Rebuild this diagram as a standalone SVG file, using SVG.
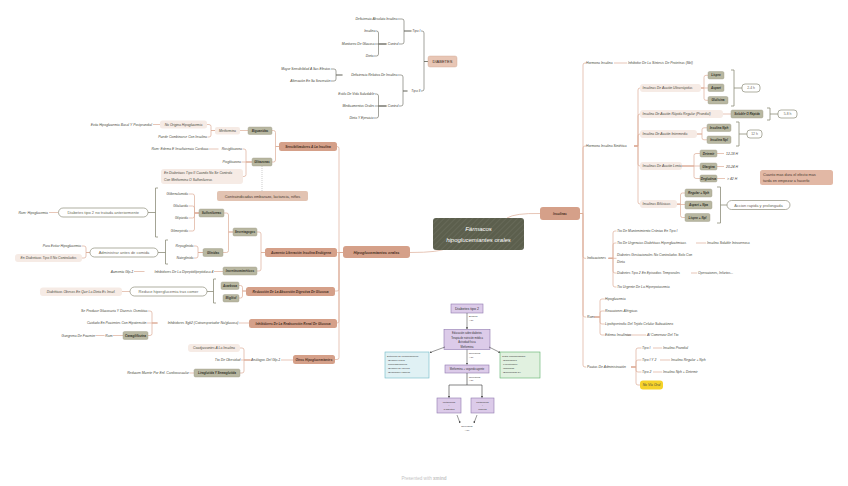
<svg xmlns="http://www.w3.org/2000/svg" width="848" height="486" viewBox="0 0 848 486">
<style>
.c{fill:none;stroke:#dcae98;stroke-width:.7}
.cd{fill:none;stroke:#66665a;stroke-width:.6}
.br{fill:none;stroke:#8d8d7a;stroke-width:.8}
.t{font-family:"Liberation Sans",Arial,sans-serif;font-style:italic;font-size:3.4px;fill:#4a4a3e;dominant-baseline:central}
.td{font-family:"Liberation Sans",Arial,sans-serif;font-style:italic;font-size:3.3px;fill:#3f3f35;dominant-baseline:central}
.e{text-anchor:end}
.m{text-anchor:middle}
.ob{fill:#b8b7a1;stroke:#9c9b86;stroke-width:.4}
.obt{font-family:"Liberation Sans",Arial,sans-serif;font-style:italic;font-weight:bold;font-size:3.1px;fill:#33332a;text-anchor:middle;dominant-baseline:central}
.lb{fill:#f6ebe5}
.sb{fill:#d5a089}
.sbt{font-family:"Liberation Sans",Arial,sans-serif;font-style:italic;font-weight:bold;font-size:3.2px;fill:#4a3024;text-anchor:middle;dominant-baseline:central}
.wb{fill:#fff;stroke:#8d8d7a;stroke-width:.7}
.n{font-family:"Liberation Sans",Arial,sans-serif;font-size:4px;fill:#6a6a5a;dominant-baseline:central}
.f{font-family:"Liberation Sans",Arial,sans-serif;fill:#333;dominant-baseline:central}
</style>
<defs>
<filter id="rough" x="-10%" y="-30%" width="120%" height="160%">
<feTurbulence type="fractalNoise" baseFrequency="0.9" numOctaves="1" seed="3"/>
<feDisplacementMap in="SourceGraphic" scale="1.4" xChannelSelector="R" yChannelSelector="G"/>
</filter>
<pattern id="hatch" width="4" height="4" patternUnits="userSpaceOnUse" patternTransform="rotate(45)">
<line x1="0" y1="0" x2="0" y2="4" stroke="#ffffff" stroke-opacity=".12" stroke-width="1"/>
</pattern>
<marker id="ar" viewBox="0 0 6 6" refX="5" refY="3" markerWidth="4" markerHeight="4" orient="auto">
<path d="M0,0 L6,3 L0,6 z" fill="#333"/>
</marker>
</defs>
<rect width="848" height="486" fill="#ffffff"/>

<g id="connectors">
<!-- central -->
<path class="c" d="M507,218 Q515,213 540,213.5"/>
<path class="c" d="M447,248 Q440,252.5 410,252.5"/>
<!-- left trunk -->
<path class="c" d="M343,252.5 H339 V148.5 Q339,146.5 337,146.5"/>
<path class="c" d="M343,252.5 H337"/>
<path class="c" d="M343,252.5 H339 V289 Q339,291 337,291 H335"/>
<path class="c" d="M343,252.5 H339 V321 Q339,323 337,323"/>
<path class="c" d="M343,252.5 H339 V357.5 Q339,359.5 337,359.5 H335"/>
<!-- sensibilizadores -->
<path class="c" d="M279,146.5 H275.5 V132.5 Q275.5,130.5 273.5,130.5 H272"/>
<path class="c" d="M279,146.5 H275.5 V160 Q275.5,162 273.5,162 H272"/>
<path class="c" d="M248,130.5 H240"/>
<path class="c" d="M215,130.5 H211 V126.5 Q211,124.5 209,124.5 H207"/>
<path class="c" d="M215,130.5 H211 V135 Q211,137 209,137 H207.5"/>
<path class="c" d="M160,124.5 H153"/>
<path class="c" d="M252,162 H246 V151 Q246,149 244,149 H242.5"/>
<path class="c" d="M252,162 H241.5"/>
<path class="c" d="M252,162 H246 V174.5 Q246,176.5 244,176.5 H243"/>
<path class="c" d="M218.5,149 H209"/>
<path fill="none" stroke="#999" stroke-width=".5" stroke-dasharray="1,1" d="M262,166 V191"/>
<!-- aumento -->
<path class="c" d="M265,252.5 H261 V234 Q261,232 259,232 H257"/>
<path class="c" d="M265,252.5 H261 V269 Q261,271 259,271 H257"/>
<path class="c" d="M233,232 H228.5 V215 Q228.5,213 226.5,213 H224"/>
<path class="c" d="M233,232 H228.5 V250.5 Q228.5,252.5 226.5,252.5 H223"/>
<path class="c" d="M199,213 H194.5 V196 Q194.5,194 192.5,194 H188.5"/>
<path class="c" d="M199,213 H194.5 V208 Q194.5,206 192.5,206 H188.5"/>
<path class="c" d="M199,213 H194.5 V216 Q194.5,218 192.5,218 H188.5"/>
<path class="c" d="M199,213 H194.5 V229 Q194.5,231 192.5,231 H188.5"/>
<path class="br" d="M158,188 H155.5 V237 H158 M155.5,212.5 H148"/>
<path class="c" d="M58,212.5 H49"/>
<path class="c" d="M203,252.5 H198 V248 Q198,246 196,246 H194"/>
<path class="c" d="M203,252.5 H198 V256 Q198,258 196,258 H194"/>
<path class="br" d="M168,240 H165.5 V264 H168 M165.5,252.5 H158"/>
<path class="c" d="M90,252.5 H86 V248 Q86,246 84,246 H81.5"/>
<path class="c" d="M90,252.5 H86 V256 Q86,258 84,258 H82"/>
<path class="c" d="M223,271.5 H214"/>
<path class="c" d="M144.5,271.5 H134"/>
<!-- reduccion -->
<path class="c" d="M246,291 H242.5 V287.5 Q242.5,285.5 240.5,285.5 H239"/>
<path class="c" d="M246,291 H242.5 V296 Q242.5,298 240.5,298 H239"/>
<path class="br" d="M216,279 H213.5 V303 H216 M213.5,291.5 H207"/>
<path class="c" d="M130,291.5 H122"/>
<!-- renal -->
<path class="c" d="M249,323 H239"/>
<path class="c" d="M157.5,323 H152 V313 Q152,311 150,311 H148"/>
<path class="c" d="M157.5,323 H147"/>
<path class="c" d="M157.5,323 H152 V333.5 Q152,335.5 150,335.5 H148"/>
<path class="c" d="M123,335.5 H113"/>
<path class="c" d="M104.5,335.5 H96"/>
<!-- otros -->
<path class="c" d="M293,360 H281"/>
<path class="c" d="M250.5,360 H244 V350 Q244,348 242,348 H240"/>
<path class="c" d="M250.5,360 H241"/>
<path class="c" d="M250.5,360 H244 V371 Q244,373 242,373 H240"/>
<path class="c" d="M194,373 H189.5"/>
<!-- diabetes -->
<path class="cd" d="M428,61.5 H424 V33 Q424,31 422,31 H421"/>
<path class="cd" d="M428,61.5 H424 V89 Q424,91 422,91 H421"/>
<path class="cd" d="M411.5,31 H404 V21 Q404,19 402,19 H398"/>
<path class="cd" d="M411.5,31 H404 V42 Q404,44 402,44 H399"/>
<path class="cd" d="M386.5,44 H378.5 V33 Q378.5,31 376.5,31 H376"/>
<path class="cd" d="M386.5,44 H375"/>
<path class="cd" d="M386.5,44 H378.5 V54 Q378.5,56 376.5,56 H374"/>
<path class="cd" d="M407.5,91 H403 V77 Q403,75 401,75 H398"/>
<path class="cd" d="M407.5,91 H403 V104 Q403,106 401,106 H399"/>
<path class="cd" d="M342.5,75 H336 V71 Q336,69 334,69 H331"/>
<path class="cd" d="M342.5,75 H336 V79 Q336,81 334,81 H331"/>
<path class="cd" d="M386.5,106 H378.5 V96 Q378.5,94 376.5,94 H375"/>
<path class="cd" d="M386.5,106 H375"/>
<path class="cd" d="M386.5,106 H378.5 V116 Q378.5,118 376.5,118 H374"/>
<!-- right trunk -->
<path class="c" d="M580,213.5 H583 V65 Q583,63 585,63 H586"/>
<path class="c" d="M580,213.5 H583 V148 Q583,146 585,146 H586"/>
<path class="c" d="M580,213.5 H583 V256.3 Q583,258.3 585,258.3 H586"/>
<path class="c" d="M580,213.5 H583 V315 Q583,317 585,317 H586"/>
<path class="c" d="M580,213.5 H583 V365 Q583,367 585,367 H586"/>
<path class="c" d="M614,63 H627"/>
<path class="c" d="M634,146 H638 V90 Q638,88 640,88"/>
<path class="c" d="M634,146 H638 V116 Q638,114 640,114"/>
<path class="c" d="M634,146 H638 V136 Q638,134 640,134"/>
<path class="c" d="M634,146 H638 V164 Q638,166 640,166"/>
<path class="c" d="M634,146 H638 V202 Q638,204 640,204"/>
<path class="c" d="M701,88 H704 V77.3 Q704,75.3 706,75.3 H708"/>
<path class="c" d="M701,88 H708"/>
<path class="c" d="M701,88 H704 V98.3 Q704,100.3 706,100.3 H708"/>
<path class="br" d="M731,70 H734 V106 H731 M734,88 H742"/>
<path class="c" d="M723,114 H731"/>
<path class="br" d="M767,108 H770 V120 H767 M770,114 H778"/>
<path class="c" d="M697,134 H702 V129.8 Q702,127.8 704,127.8 H707"/>
<path class="c" d="M697,134 H702 V137.8 Q702,139.8 704,139.8 H707"/>
<path class="br" d="M736,122 H739 V146 H736 M739,134 H747"/>
<path class="c" d="M682,166 H694 V155.5 Q694,153.5 696,153.5 H700"/>
<path class="c" d="M682,166 H700"/>
<path class="c" d="M682,166 H694 V176.5 Q694,178.5 696,178.5 H700"/>
<path class="c" d="M717,153.5 H724 M717,166.5 H724 M717,178.5 H725"/>
<path class="c" d="M677,204 H680.5 V195 Q680.5,193 682.5,193 H685"/>
<path class="c" d="M677,204.5 H685"/>
<path class="c" d="M677,204 H680.5 V215.5 Q680.5,217.5 682.5,217.5 H685"/>
<path class="br" d="M717,187 H720.5 V223 H717 M720.5,205 H727"/>
<path class="c" d="M608.5,258.3 H613 V233 Q613,231 615,231 H616.5"/>
<path class="c" d="M608.5,258.3 H613 V245 Q613,243 615,243 H616.5"/>
<path class="c" d="M608.5,258.3 H616.5"/>
<path class="c" d="M608.5,258.3 H613 V271 Q613,273 615,273 H616.5"/>
<path class="c" d="M608.5,258.3 H613 V285 Q613,287 615,287 H616.5"/>
<path class="c" d="M696,243 H706 M691,273 H697"/>
<path class="c" d="M594,317 H600 V301 Q600,299 602,299 H604.5"/>
<path class="c" d="M594,317 H600 V313 Q600,311 602,311 H604.5"/>
<path class="c" d="M594,317 H600 V322 Q600,324 602,324 H604.5"/>
<path class="c" d="M594,317 H600 V333 Q600,335 602,335 H604.5"/>
<path class="c" d="M626,335 H646"/>
<path class="c" d="M631,367 H636 V350 Q636,348 638,348 H641.5"/>
<path class="c" d="M631,367 H636 V362 Q636,360 638,360 H641.5"/>
<path class="c" d="M631,367 H636 V370 Q636,372 638,372 H641.5"/>
<path class="c" d="M631,367 H636 V383 Q636,385 638,385 H640"/>
<path class="c" d="M653,348 H662 M660,360 H670 M653,372 H662"/>
</g>

<g id="central">
<rect x="433" y="218" width="91" height="32" rx="3" fill="#5b5f4e" filter="url(#rough)"/>
<rect x="433" y="218" width="91" height="32" rx="3" fill="url(#hatch)"/>
<text x="478.5" y="229" font-family="Liberation Sans,Arial,sans-serif" font-style="italic" font-size="6" fill="#fff" text-anchor="middle" dominant-baseline="central">Fármacos</text>
<text x="478.5" y="240" font-family="Liberation Sans,Arial,sans-serif" font-style="italic" font-size="6" fill="#fff" text-anchor="middle" dominant-baseline="central">hipoglucemiantes orales</text>
</g>

<g id="insulinas">
<rect x="540" y="207" width="40" height="13" rx="3" class="sb" filter="url(#rough)"/>
<text x="560" y="213.7" class="sbt" font-size="4.2">Insulinas</text>
</g>
<g id="hipo-orales">
<rect x="343" y="246" width="67" height="12" rx="3" class="sb" filter="url(#rough)"/>
<text x="376.5" y="252.3" class="sbt" style="font-size:3.9px">Hipoglucemiantes orales</text>
</g>

<g id="diabetes">
<rect x="428" y="56" width="29" height="11" rx="2" fill="#e8c6b5" stroke="#cfa48f" stroke-width=".4"/>
<text x="442.5" y="61.7" font-family="Liberation Sans,Arial,sans-serif" font-size="4" fill="#3a2a22" text-anchor="middle" dominant-baseline="central">DIABETES</text>
<text x="420.5" y="31" class="td e">Tipo I</text>
<text x="397.5" y="19" class="td e">Deficiencia Absoluta Insulina</text>
<text x="398.5" y="44" class="td e">Control</text>
<text x="375.5" y="31" class="td e">Insulina</text>
<text x="374.5" y="44" class="td e">Monitoreo De Glucosa</text>
<text x="373.5" y="56" class="td e">Dieta</text>
<text x="420.5" y="91" class="td e">Tipo II</text>
<text x="397.5" y="75" class="td e">Deficiencia Relativa De Insulina</text>
<text x="330.5" y="69" class="td e">Mayor Sensibilidad A Sus Efectos</text>
<text x="330.5" y="81" class="td e">Alteración En Su Secreción</text>
<text x="398.5" y="106" class="td e">Control</text>
<text x="374.5" y="94" class="td e">Estilo De Vida Saludable</text>
<text x="374.5" y="106" class="td e">Medicamentos Orales</text>
<text x="373.5" y="118" class="td e">Dieta Y Ejercicio</text>
</g>

<g id="sensibilizadores">
<rect x="279" y="142" width="58" height="9" rx="2.5" class="sb" filter="url(#rough)"/>
<text x="308" y="146.5" class="sbt">Sensibilizadores A La Insulina</text>
</g>
<g id="biguanidas">
<rect x="248" y="127" width="24" height="7.5" rx="1.5" class="ob"/>
<text x="260" y="130.8" class="obt">Biguanidas</text>
<rect x="215" y="127" width="25" height="7.5" rx="2" class="lb"/>
<text x="227.5" y="130.8" class="t m">Metformina</text>
<rect x="160" y="120.5" width="47" height="8" rx="2.5" class="lb"/>
<text x="183.5" y="124.5" class="t m">No Origina Hipoglucemia</text>
<text x="152" y="124.5" class="t e">Evita Hipoglucemia Basal Y Postprandial</text>
<text x="207" y="137" class="t e">Puede Combinarse Con Insulina</text>
</g>
<g id="glitazonas">
<rect x="252" y="158" width="20" height="8" rx="1.5" class="ob"/>
<text x="262" y="162" class="obt">Glitazonas</text>
<text x="242" y="149" class="t e">Rosiglitazona</text>
<text x="208.5" y="149" class="t e">Ram: Edema E Insuficiencia Cardiaca</text>
<text x="241" y="162" class="t e">Pioglitazona</text>
<rect x="161" y="169" width="82" height="15" rx="3" class="lb"/>
<text x="164" y="173" class="t">En Diabeticos Tipo II Cuando No Se Controla</text>
<text x="164" y="180" class="t">Con Metformina O Sulfonilureas</text>
<rect x="217" y="191" width="91" height="10" rx="2" fill="#e2c3b2"/>
<text x="262.5" y="196" class="n m" style="fill:#4a3a30;font-size:3.9px">Contraindicadas embarazo, lactancia, niños</text>
</g>

<g id="aumento">
<rect x="265" y="248" width="72" height="9" rx="2.5" class="sb" filter="url(#rough)"/>
<text x="301" y="252.5" class="sbt">Aumento Liberación Insulina Endógena</text>
</g>
<g id="secretagogos">
<rect x="233" y="228" width="24" height="8" rx="1.5" class="ob"/>
<text x="245" y="232" class="obt">Secretagogos</text>
</g>
<g id="sulfonilureas">
<rect x="199" y="209" width="25" height="8" rx="1.5" class="ob"/>
<text x="211.5" y="213" class="obt">Sulfonilureas</text>
<text x="188" y="194" class="t e">Glibenclamida</text>
<text x="188" y="206" class="t e">Gliclazida</text>
<text x="188" y="218" class="t e">Glipizida</text>
<text x="188" y="231" class="t e">Glimepirida</text>
<rect x="58.5" y="208" width="89.5" height="9" rx="4.5" class="wb"/>
<text x="103.2" y="212.6" class="n m">Diabetes tipo 2 no tratada anteriormente</text>
<text x="48" y="212.5" class="t e">Ram: Hipoglucemia</text>
</g>
<g id="glinidas">
<rect x="203" y="248.5" width="20" height="8" rx="1.5" class="ob"/>
<text x="213" y="252.5" class="obt">Glinidas</text>
<text x="193.5" y="246" class="t e">Repaglinida</text>
<text x="193.5" y="258" class="t e">Nateglinida</text>
<rect x="90" y="248" width="68" height="9" rx="4.5" class="wb"/>
<text x="124" y="252.6" class="n m">Administrar antes de comida</text>
<text x="81" y="246" class="t e">Para Evitar Hipoglucemia</text>
<rect x="15" y="254" width="67" height="8" rx="3" class="lb"/>
<text x="48.5" y="258" class="t m">En Diabeticos Tipo II No Controlados</text>
</g>
<g id="incretinomimeticos">
<rect x="223" y="267" width="34" height="8" rx="1.5" class="ob"/>
<text x="240" y="271.2" class="obt">Incretinomiméticos</text>
<text x="213.5" y="271.5" class="t e">Inhibidores De La Dipeptidilpeptidasa 4</text>
<text x="133.5" y="271.5" class="t e">Aumenta Glp-1</text>
</g>

<g id="reduccion">
<rect x="246" y="287" width="89" height="9" rx="2.5" class="sb" filter="url(#rough)"/>
<text x="290.5" y="291.5" class="sbt">Reducción De La Absorción Digestiva De Glucosa</text>
<rect x="221" y="282" width="18" height="7.5" rx="1.5" class="ob"/>
<text x="230" y="285.8" class="obt">Acarbosa</text>
<rect x="223" y="294.5" width="16" height="7.5" rx="1.5" class="ob"/>
<text x="231" y="298.3" class="obt">Miglitol</text>
<rect x="130" y="287" width="77" height="9" rx="4.5" class="wb"/>
<text x="168.5" y="291.6" class="n m">Reduce hiperglucemia tras comer</text>
<rect x="40" y="287.5" width="82" height="8.5" rx="3" class="lb"/>
<text x="81" y="291.7" class="t m">Diabéticos Obesos En Que La Dieta Es Insuf.</text>
</g>

<g id="renal">
<rect x="249" y="319" width="88" height="9" rx="2.5" class="sb" filter="url(#rough)"/>
<text x="293" y="323.5" class="sbt">Inhibidores De La Reabsorción Renal De Glucosa</text>
<text x="238.5" y="323" class="t e">Inhibidores Sglt2 (Cotransportador Na/glucosa)</text>
<text x="147.5" y="311" class="t e">Se Produce Glucosuria Y Diuresis Osmótica</text>
<text x="146.5" y="323" class="t e">Cuidado En Pacientes Con Hipotensión</text>
<rect x="123" y="331.5" width="25" height="8" rx="1.5" class="ob"/>
<text x="135.5" y="335.5" class="obt">Canagliflozina</text>
<text x="112.5" y="335.5" class="t e">Ram</text>
<text x="95.5" y="335.5" class="t e">Gangrena De Fournier</text>
</g>

<g id="otros">
<rect x="293" y="355" width="42" height="9" rx="2.5" class="sb" filter="url(#rough)"/>
<text x="314" y="359.5" class="sbt">Otros Hipoglucemiantes</text>
<text x="280.5" y="360" class="t e">Análogos Del Glp-1</text>
<rect x="188" y="344" width="52" height="8" rx="3" class="lb"/>
<text x="214" y="348" class="t m">Coadyuvantes A La Insulina</text>
<text x="240.5" y="360" class="t e">Tto De Obesidad</text>
<rect x="194" y="369" width="46" height="8" rx="1.5" class="ob"/>
<text x="217" y="373" class="obt">Liraglutida Y Semaglutida</text>
<text x="189" y="373" class="t e">Reducen Muerte Por Enf. Cardiovascular</text>
</g>

<g id="hormona">
<text x="586" y="63" class="t">Hormona Insulina</text>
<text x="628" y="63" class="t">Inhibidor De La Síntesis De Proteínas (Sbl)</text>
</g>
<g id="sintetica">
<text x="586" y="146" class="t">Hormona Insulina Sintética</text>
<rect x="640" y="84" width="61" height="8" rx="3" class="lb"/>
<text x="642.5" y="88" class="t">Insulinas De Acción Ultrarrápidas</text>
<rect x="708" y="71.5" width="16" height="7.5" rx="1.5" class="ob"/>
<text x="716" y="75.3" class="obt">Lispro</text>
<rect x="708" y="84" width="16" height="7.5" rx="1.5" class="ob"/>
<text x="716" y="87.8" class="obt">Aspart</text>
<rect x="708" y="96.5" width="20" height="7.5" rx="1.5" class="ob"/>
<text x="718" y="100.3" class="obt">Glulisina</text>
<rect x="742" y="84" width="18" height="8" rx="3" class="wb"/>
<text x="751" y="88.2" class="n m" style="font-size:3.4px">2-4 h</text>
<rect x="640" y="110" width="83" height="8" rx="3" class="lb"/>
<text x="642.5" y="114" class="t">Insulina De Acción Rápida Regular (Prandial)</text>
<rect x="731" y="110" width="32" height="8" rx="1.5" class="ob"/>
<text x="747" y="114" class="obt">Soluble O Rápida</text>
<rect x="778" y="110" width="19" height="8" rx="3" class="wb"/>
<text x="787.5" y="114.2" class="n m" style="font-size:3.4px">5-8 h</text>
<rect x="640" y="130" width="57" height="8" rx="3" class="lb"/>
<text x="642.5" y="134" class="t">Insulina De Acción Intermedia</text>
<rect x="707" y="124" width="24" height="7.5" rx="1.5" class="ob"/>
<text x="719" y="127.8" class="obt">Insulina Nph</text>
<rect x="707" y="136" width="24" height="7.5" rx="1.5" class="ob"/>
<text x="719" y="139.8" class="obt">Insulina Npl</text>
<rect x="747" y="130" width="15" height="8" rx="3" class="wb"/>
<text x="754.5" y="134.2" class="n m" style="font-size:3.4px">12 h</text>
<rect x="640" y="162" width="42" height="8" rx="3" class="lb"/>
<text x="642.5" y="166" class="t">Insulinas De Acción Lenta</text>
<rect x="700" y="150" width="17" height="7" rx="1.5" class="ob"/>
<text x="708.5" y="153.5" class="obt">Detemir</text>
<rect x="700" y="163" width="17" height="7" rx="1.5" class="ob"/>
<text x="708.5" y="166.5" class="obt">Glargina</text>
<rect x="700" y="175" width="17" height="7" rx="1.5" class="ob"/>
<text x="708.5" y="178.5" class="obt">Degludeca</text>
<text x="726" y="153.5" class="t">12-18 H</text>
<text x="726" y="166.5" class="t">20-24 H</text>
<text x="727" y="178.5" class="t">&gt; 42 H</text>
<rect x="760" y="170" width="73" height="15" rx="2.5" fill="#e2b8a5" filter="url(#rough)"/>
<text x="763" y="174.5" class="n" style="fill:#4a3a30;font-size:3.8px">Cuanto mas dura el efecto mas</text>
<text x="763" y="180.5" class="n" style="fill:#4a3a30;font-size:3.8px">tarda en empezar a hacerlo</text>
<rect x="640" y="200" width="37" height="8" rx="3" class="lb"/>
<text x="642.5" y="204" class="t">Insulinas Bifásicas</text>
<rect x="685" y="189" width="27" height="8" rx="1.5" class="ob"/>
<text x="698.5" y="193" class="obt">Regular + Nph</text>
<rect x="685" y="201" width="27" height="8" rx="1.5" class="ob"/>
<text x="698.5" y="205" class="obt">Aspart + Npa</text>
<rect x="685" y="213.5" width="25" height="8" rx="1.5" class="ob"/>
<text x="697.5" y="217.5" class="obt">Lispro + Npl</text>
<rect x="727" y="200.5" width="63" height="9" rx="4.5" class="wb"/>
<text x="758.5" y="205.1" class="n m">Accion rapida y prolongada</text>
</g>
<g id="indicaciones">
<text x="587" y="258.3" class="t">Indicaciones</text>
<text x="617" y="231" class="t">Tto De Mantenimiento Crónico En Tipo I</text>
<text x="617" y="243" class="t">Tto De Urgencias Diabéticas Hiperglucémicas</text>
<text x="707" y="243" class="t">Insulina Soluble Intravenosa</text>
<text x="617" y="255" class="t">Diabetes Gestacionales No Controlados Solo Con</text>
<text x="617" y="261.7" class="t">Dieta</text>
<text x="617" y="273" class="t">Diabetes Tipo 2 En Episodios Temporales</text>
<text x="698" y="273" class="t">Operaciones, Infartos...</text>
<text x="617" y="287" class="t">Tto Urgente De La Hiperpotasemia</text>
</g>
<g id="ram">
<text x="587" y="317" class="t">Ram</text>
<text x="605" y="299" class="t">Hipoglucemia</text>
<text x="605" y="311" class="t">Reacciones Alérgicas</text>
<text x="605" y="324" class="t">Lipohipertrofia Del Tejido Celular Subcutáneo</text>
<text x="605" y="335" class="t">Edema Insulínico</text>
<text x="647" y="335" class="t">Al Comenzar Del Tto</text>
</g>
<g id="pautas">
<text x="587" y="367" class="t">Pautas De Administración</text>
<text x="642" y="348" class="t">Tipo I</text>
<text x="663" y="348" class="t">Insulina Prandial</text>
<text x="642" y="360" class="t">Tipo I Y 2</text>
<text x="671" y="360" class="t">Insulina Regular + Nph</text>
<text x="642" y="372" class="t">Tipo 2</text>
<text x="663" y="372" class="t">Insulina Nph + Detemir</text>
<rect x="640" y="380.5" width="23" height="9" rx="3" fill="#f6d229" filter="url(#rough)"/>
<text x="651.5" y="385" class="t m">No Vía Oral</text>
</g>

<g id="flowchart">
<rect x="451" y="304" width="32" height="9" fill="#dccbe9" stroke="#8f79b0" stroke-width=".6"/>
<text x="467" y="308.6" class="f m" font-size="3.6">Diabetes tipo 2</text>
<text x="469" y="316.5" class="f" font-size="2.5">Evaluar</text>
<text x="469" y="320" class="f" font-size="2.5">A1c</text>
<line x1="467" y1="313" x2="467" y2="329" stroke="#333" stroke-width=".5" marker-end="url(#ar)"/>
<rect x="444" y="329.5" width="46" height="20" fill="#dccbe9" stroke="#8f79b0" stroke-width=".6"/>
<text x="467" y="333.5" class="f m" font-size="2.6">Educación sobre diabetes</text>
<text x="467" y="338" class="f m" font-size="2.6">Terapia de nutrición médica</text>
<text x="467" y="342.5" class="f m" font-size="2.6">Actividad física</text>
<text x="467" y="347" class="f m" font-size="2.6">Metformina</text>
<line x1="445" y1="347" x2="430" y2="352.5" stroke="#333" stroke-width=".5" marker-end="url(#ar)"/>
<line x1="489" y1="347" x2="500" y2="352.5" stroke="#333" stroke-width=".5" marker-end="url(#ar)"/>
<rect x="385" y="352" width="44" height="26" fill="#e0f1f4" stroke="#6fb9c6" stroke-width=".6"/>
<text x="387" y="356" class="f" font-size="2.4">Detección de complicaciones:</text>
<text x="388" y="360.5" class="f" font-size="2.4">•Examen retinal</text>
<text x="388" y="364.5" class="f" font-size="2.4">•Microalbuminuria</text>
<text x="388" y="368.5" class="f" font-size="2.4">•Examen de los pies</text>
<text x="388" y="372.5" class="f" font-size="2.4">•Evaluación vascular</text>
<rect x="500" y="352" width="40" height="26" fill="#e1f1e0" stroke="#5bb06a" stroke-width=".6"/>
<text x="502" y="356" class="f" font-size="2.4">Tratar comorbilidades:</text>
<text x="503" y="360.5" class="f" font-size="2.4">•Dislipidemia</text>
<text x="503" y="364.5" class="f" font-size="2.4">•Hipertensión</text>
<text x="503" y="368.5" class="f" font-size="2.4">•Obesidad</text>
<text x="503" y="372.5" class="f" font-size="2.4">•Enfermedad CV</text>
<line x1="467" y1="349.5" x2="467" y2="364.5" stroke="#333" stroke-width=".5" marker-end="url(#ar)"/>
<text x="469" y="353.5" class="f" font-size="2.5">Reevaluar</text>
<text x="469" y="357" class="f" font-size="2.5">A1c</text>
<rect x="445" y="365" width="44" height="8" fill="#dccbe9" stroke="#8f79b0" stroke-width=".6"/>
<text x="467" y="369" class="f m" font-size="2.6">Metformina + segundo agente</text>
<text x="469" y="377" class="f" font-size="2.5">Reevaluar</text>
<text x="469" y="380.5" class="f" font-size="2.5">A1c</text>
<path d="M467,373 V385 M449,385 H482" fill="none" stroke="#333" stroke-width=".6"/>
<line x1="449" y1="385" x2="449" y2="397.5" stroke="#333" stroke-width=".6" marker-end="url(#ar)"/>
<line x1="482" y1="385" x2="482" y2="397.5" stroke="#333" stroke-width=".6" marker-end="url(#ar)"/>
<rect x="437" y="398" width="24" height="15" fill="#dccbe9" stroke="#8f79b0" stroke-width=".6"/>
<text x="449" y="402" class="f m" font-size="2.5">Metformina</text>
<text x="449" y="405.5" class="f m" font-size="2.5">+</text>
<text x="449" y="409" class="f m" font-size="2.5">3 agentes</text>
<rect x="471" y="398" width="23" height="15" fill="#dccbe9" stroke="#8f79b0" stroke-width=".6"/>
<text x="482.5" y="402" class="f m" font-size="2.5">Metformina</text>
<text x="482.5" y="405.5" class="f m" font-size="2.5">+</text>
<text x="482.5" y="409" class="f m" font-size="2.5">insulina</text>
<line x1="457" y1="415" x2="460" y2="423" stroke="#333" stroke-width=".5" marker-end="url(#ar)"/>
<line x1="477" y1="415" x2="474" y2="423" stroke="#333" stroke-width=".5" marker-end="url(#ar)"/>
<text x="467" y="426.5" class="f m" font-size="2.5">Reevaluar</text>
<text x="467" y="430" class="f m" font-size="2.5">A1c</text>
</g>

<text x="424" y="478" font-family="Liberation Sans,Arial,sans-serif" font-size="4.6" fill="#c4c4c4" text-anchor="middle" dominant-baseline="central">Presented with <tspan font-weight="bold">xmind</tspan></text>
</svg>
